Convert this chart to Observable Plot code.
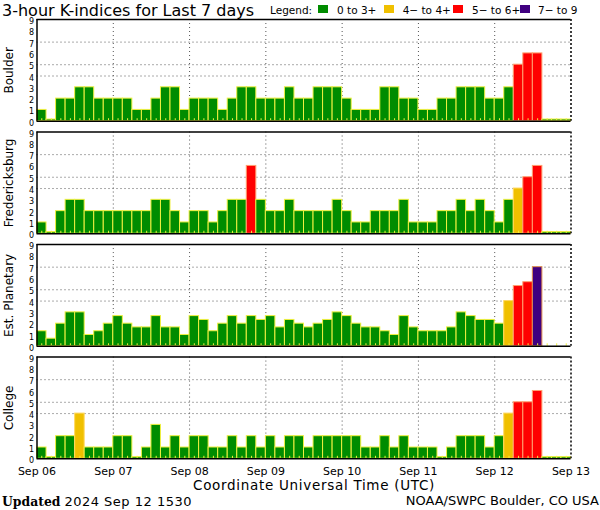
<!DOCTYPE html>
<html><head><meta charset="utf-8">
<script src="https://cdn.jsdelivr.net/npm/d3@7"></script>
<script src="https://cdn.jsdelivr.net/npm/@observablehq/plot@0.6"></script>
<style>
body{margin:0;background:#fff;font-family:"DejaVu Sans",sans-serif;}
#wrap{position:relative;width:600px;height:510px;overflow:hidden;background:#fff}
.t{position:absolute;line-height:1;white-space:nowrap;color:#000}
.box{position:absolute;width:10px;height:8px;top:5.3px}
</style></head><body><div id="wrap"></div>
<script>
// ---- data ----
const panels = ["Boulder", "Fredericksburg", "Est. Planetary", "College"];
const boulder = [1,0,2,2,3,3,2,2, 2,2,1,1,2,3,3,1, 2,2,2,1,2,3,3,2, 2,2,3,2,2,3,3,3, 2,1,1,1,3,3,2,2, 1,1,2,2,3,3,3,2, 2,3,5,6,6,0,0,0];
const fredericksburg = [1,0,2,3,3,2,2,2, 2,2,2,2,3,3,2,1, 2,2,1,2,3,3,6,3, 2,2,3,2,2,2,2,3, 2,1,1,2,2,2,3,1, 1,1,2,2,3,2,3,2, 1,3,4,5,6,0,0,0];
const planetary = [1.33,0.67,2,3,3,1,1.33,2, 2.67,2,1.67,1.67,2.67,1.67,1.67,1, 2.67,2.33,1.33,2,2.67,2,2.67,2.33, 2.67,1.67,2.33,2,1.67,2,2.33,3, 2.67,2,1.67,1.67,1.33,1,2.67,1.67, 1.33,1.33,1.33,1.67,3,2.67,2.33,2.33, 2,4,5.33,5.67,7,null,null,null];
const college = [1,0,2,2,4,1,1,1, 2,2,0,1,3,1,2,1, 2,2,1,1,2,1,2,1, 2,1,2,2,1,2,2,2, 2,2,1,1,2,1,2,1, 1,1,0,1,2,2,2,1, 2,4,5,5,6,0,0,0];
const yTicks = [0,1,2,3,4,5,6,7,8,9];
const gridLevels = [4,5,7];
const legendLabels = ["0 to 3+", "4\u2212 to 4+", "5\u2212 to 6+", "7\u2212 to 9"];
const legendColors = ["#008c00", "#f0c000", "#ff0000", "#400080"];
const strokeColors = ["#f0f040", "#ffd860", "#ffa070", "#e09050"];
const startDate = new Date(Date.UTC(2024, 8, 6));
const endDate = new Date(Date.UTC(2024, 8, 13));

// ---- build table ----
const H3 = 3 * 3600 * 1000;
const series = [boulder, fredericksburg, planetary, college];
const rows = [];
series.forEach((vals, k) => vals.forEach((v, i) => rows.push({
  panel: panels[k], v,
  t0: new Date(+startDate + i * H3), t1: new Date(+startDate + (i + 1) * H3),
  tm: new Date(+startDate + (i + 0.5) * H3)
})));
const bars = rows.filter(d => d.v != null);
const cls = v => v < 3.5 ? 0 : v < 4.5 ? 1 : v < 6.5 ? 2 : 3;
const days = d3.utcDays(startDate, new Date(+endDate + 1));
const inner = days.slice(1, -1);

const chart = Plot.plot({
  width: 600, height: 510,
  marginLeft: 36.5, marginRight: 29.5, marginTop: 19, marginBottom: 51.7,
  style: {fontFamily: "DejaVu Sans", fontSize: "9px", background: "white", color: "black"},
  facet: {marginTop: 0, marginBottom: 0, marginLeft: 0, marginRight: 0},
  fy: {domain: panels, axis: null, padding: 0.096, round: false, label: null},
  x: {type: "utc", domain: [startDate, endDate], label: null},
  y: {domain: [0, 9], label: null},
  marks: [
    Plot.gridY(gridLevels, {stroke: "#555", strokeOpacity: 1, strokeDasharray: "1,3"}),
    Plot.gridX(inner, {stroke: "#555", strokeOpacity: 1, strokeDasharray: "1,3"}),
    Plot.rectY(bars, {
      x1: "t0", x2: "t1", y1: 0, y2: d => Math.max(d.v, 0.15), fy: "panel",
      fill: d => legendColors[cls(d.v)], stroke: d => strokeColors[cls(d.v)], strokeWidth: 1
    }),
    Plot.ruleX(rows, {x: "tm", fy: "panel", y1: 0, y2: 0.22, stroke: "#f0f040", strokeWidth: 1}),
    Plot.ruleY([0, 9], {stroke: "black", strokeWidth: 1.5}),
    Plot.ruleX([startDate], {stroke: "black", strokeWidth: 1.5}),
    Plot.ruleX([endDate], {stroke: "black", strokeWidth: 1.5, strokeDasharray: "2,2"}),
    Plot.axisY({ticks: yTicks, tickSize: 0, tickPadding: 3, fontSize: 8, dy: 2, label: null}),
    Plot.axisX({ticks: days, tickFormat: d3.utcFormat("%b %d"), tickSize: 0, tickPadding: 8.5, fontSize: 11, label: null}),
    Plot.text(panels, {fy: d => d, text: d => d, frameAnchor: "left", textAnchor: "middle", rotate: -90, dx: -28, fontSize: 12})
  ]
});
const wrap = document.getElementById("wrap");
wrap.appendChild(chart);
chart.style.position = "absolute"; chart.style.left = "0"; chart.style.top = "0";

function addText(txt, left, top, size, extra) {
  const el = document.createElement("div");
  el.className = "t"; el.textContent = txt;
  el.style.left = left + "px"; el.style.top = top + "px"; el.style.fontSize = size + "px";
  if (extra) Object.assign(el.style, extra);
  wrap.appendChild(el); return el;
}
addText("3-hour K-indices for Last 7 days", 2, 4.5, 16, {lineHeight: "0.7"});
addText("Coordinate Universal Time (UTC)", 193, 479, 13.5, {letterSpacing: "0.7px"});
const up = addText("", 2, 494.5, 12.4);
up.innerHTML = '<span style="font-family:\'DejaVu Serif\';font-weight:bold">Updated</span> <span style="font-size:13px;letter-spacing:0.5px">2024 Sep 12 1530</span>';
addText("NOAA/SWPC Boulder, CO USA", 0, 493.5, 13, {left: "auto", right: "1px"});

// legend
addText("Legend:", 270, 5.1, 10.5);
const boxX = [317.7, 383.7, 453.3, 520];
const labelX = [337, 402.7, 472, 538];
legendLabels.forEach((l, i) => {
  const b = document.createElement("div"); b.className = "box";
  b.style.left = boxX[i] + "px"; b.style.background = legendColors[i];
  wrap.appendChild(b);
  addText(l, labelX[i], 5.1, 10.5);
});
</script>
</body></html>
